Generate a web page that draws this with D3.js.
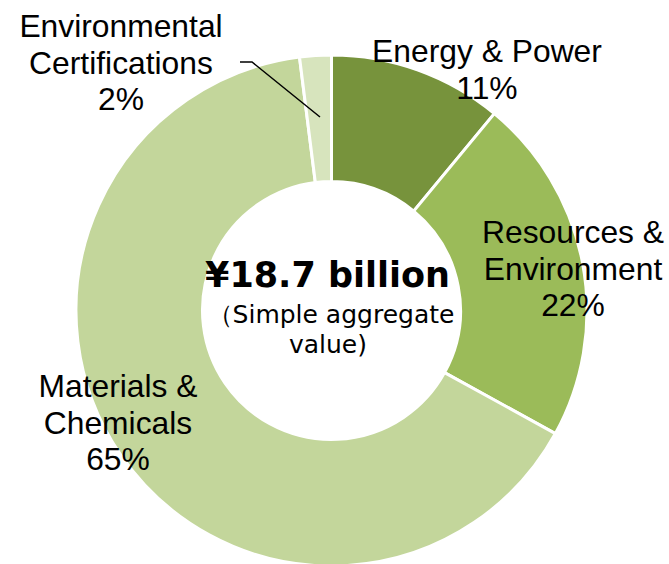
<!DOCTYPE html>
<html>
<head>
<meta charset="utf-8">
<script src="https://cdn.jsdelivr.net/npm/d3@7"></script>
<style>
  html, body { margin: 0; padding: 0; background: #fff; }
  svg { display: block; }
</style>
</head>
<body>
<svg></svg>
<script>
// Data
const categories = ["Energy & Power", "Resources & Environment", "Materials & Chemicals", "Environmental Certifications"];
const shares = [11, 22, 65, 2];
const labelLines = [
    ["Energy & Power"],
    ["Resources &", "Environment"],
    ["Materials &", "Chemicals"],
    ["Environmental", "Certifications"]
];
const totalLabel = "¥18.7 billion";
const totalNote = ["（Simple aggregate", "value)"];

const colors = ["#77933C", "#9BBB59", "#C3D69B", "#D7E4BD"];

// Layout
const width = 669, height = 564;
const cx = 331.5, cy = 310.5;
const outerR = 255.5, innerR = 129;
// label anchor (center x, first baseline y)
const labelPos = [
    [487, 62],
    [573, 243],
    [118, 397],
    [121, 37]
];
const lineStep = 36.5;

const svg = d3.select("svg").attr("width", width).attr("height", height);

const pie = d3.pie().sort(null).value(d => d);
const arc = d3.arc().innerRadius(innerR).outerRadius(outerR);

const g = svg.append("g").attr("transform", `translate(${cx},${cy})`);

g.selectAll("path")
    .data(pie(shares))
    .enter().append("path")
    .attr("d", arc)
    .attr("fill", (d, i) => colors[i])
    .attr("stroke", "#fff")
    .attr("stroke-width", 3)
    .attr("stroke-linejoin", "miter");

// leader line for the small slice
svg.append("polyline")
    .attr("points", "240,62 252,62 320,117")
    .attr("fill", "none")
    .attr("stroke", "#000")
    .attr("stroke-width", 1.5);

// Slice labels
const labels = svg.append("g")
    .attr("font-family", "'Liberation Sans', Arial, sans-serif")
    .attr("font-size", 31.8)
    .attr("fill", "#000")
    .attr("text-anchor", "middle");

categories.forEach((c, i) => {
    const lines = labelLines[i].concat([shares[i] + "%"]);
    const t = labels.append("text")
        .attr("x", labelPos[i][0])
        .attr("y", labelPos[i][1]);
    lines.forEach((l, j) => {
        t.append("tspan")
            .attr("x", labelPos[i][0])
            .attr("y", labelPos[i][1] + j * lineStep)
            .text(l);
    });
});

// Center text
svg.append("text")
    .attr("x", 327.5)
    .attr("y", 287)
    .attr("text-anchor", "middle")
    .attr("font-family", "'DejaVu Sans', Verdana, sans-serif")
    .attr("font-weight", "bold")
    .attr("font-size", 35)
    .text(totalLabel);

svg.append("text")
    .attr("x", 331)
    .attr("y", 323)
    .attr("text-anchor", "middle")
    .attr("font-family", "'DejaVu Sans', Verdana, sans-serif")
    .attr("font-size", 25)
    .text(totalNote[0]);

svg.append("text")
    .attr("x", 328)
    .attr("y", 353)
    .attr("text-anchor", "middle")
    .attr("font-family", "'DejaVu Sans', Verdana, sans-serif")
    .attr("font-size", 25)
    .text(totalNote[1]);
</script>
</body>
</html>
